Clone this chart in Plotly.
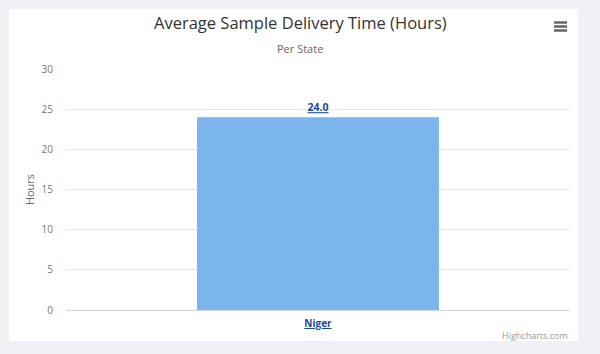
import plotly.graph_objects as go

categories = ["Niger"]
values = [24.0]
y_ticks = [0, 5, 10, 15, 20, 25, 30]

W, H = 600, 354
L, R, T, B = 66, 30, 69, 44
pw, ph = W - L - R, H - T - B

def px(x):
    return (x - L) / pw

def py(y):
    return (H - B - y) / ph

fig = go.Figure()
fig.add_trace(go.Bar(
    x=categories, y=values,
    marker=dict(color="#7cb5ec", line=dict(width=0)),
    text=[f"<u><b>{v:.1f}</b></u>" for v in values],
    textposition="outside",
    textfont=dict(family="Open Sans, sans-serif", size=10.5, color="#1a47a3"),
    cliponaxis=False,
    hoverinfo="skip",
))

shapes = [
    dict(type="rect", xref="paper", yref="paper", x0=px(9), x1=px(578), y0=py(341), y1=py(9),
         fillcolor="white", line=dict(width=0), layer="below"),
]
for yy in (22.5, 26.5, 30.5):
    shapes.append(dict(type="line", xref="paper", yref="paper", x0=px(554), x1=px(567),
                       y0=py(yy), y1=py(yy), line=dict(color="#666666", width=2.5)))

fig.update_layout(
    width=W, height=H,
    margin=dict(l=L, r=R, t=T, b=B),
    paper_bgcolor="#f0f0f6",
    plot_bgcolor="rgba(0,0,0,0)",
    showlegend=False,
    bargap=0.52,
    font=dict(family="Open Sans, sans-serif", color="#666666"),
    xaxis=dict(
        tickvals=categories,
        ticktext=[f"<u><b>{c}</b></u>" for c in categories],
        tickfont=dict(size=10, color="#1a47a3"),
        showgrid=False, showline=False, zeroline=False, ticks="",
        ticklabelstandoff=6,
        range=[-0.5, 0.5],
    ),
    yaxis=dict(
        range=[0, 30], tickvals=y_ticks,
        tickfont=dict(size=10, color="#777777"),
        gridcolor="#e6e6e6", gridwidth=1,
        zeroline=True, zerolinecolor="#ccd6eb", zerolinewidth=1,
        showline=False, ticks="", ticklen=0,
        ticklabelstandoff=12,
        title=dict(text="Hours", font=dict(size=11, color="#666666"), standoff=4),
    ),
    shapes=shapes,
    annotations=[
        dict(text="Average Sample Delivery Time (Hours)", xref="paper", yref="paper",
             x=px(300), y=py(22), xanchor="center", yanchor="middle", showarrow=False,
             font=dict(size=16.5, color="#333333")),
        dict(text="Per State", xref="paper", yref="paper",
             x=px(300), y=py(48), xanchor="center", yanchor="middle", showarrow=False,
             font=dict(size=11, color="#666666")),
        dict(text="Highcharts.com", xref="paper", yref="paper",
             x=px(570), y=py(335), xanchor="right", yanchor="middle", showarrow=False,
             font=dict(size=9, color="#999999")),
    ],
)

fig.write_html("out.html")
